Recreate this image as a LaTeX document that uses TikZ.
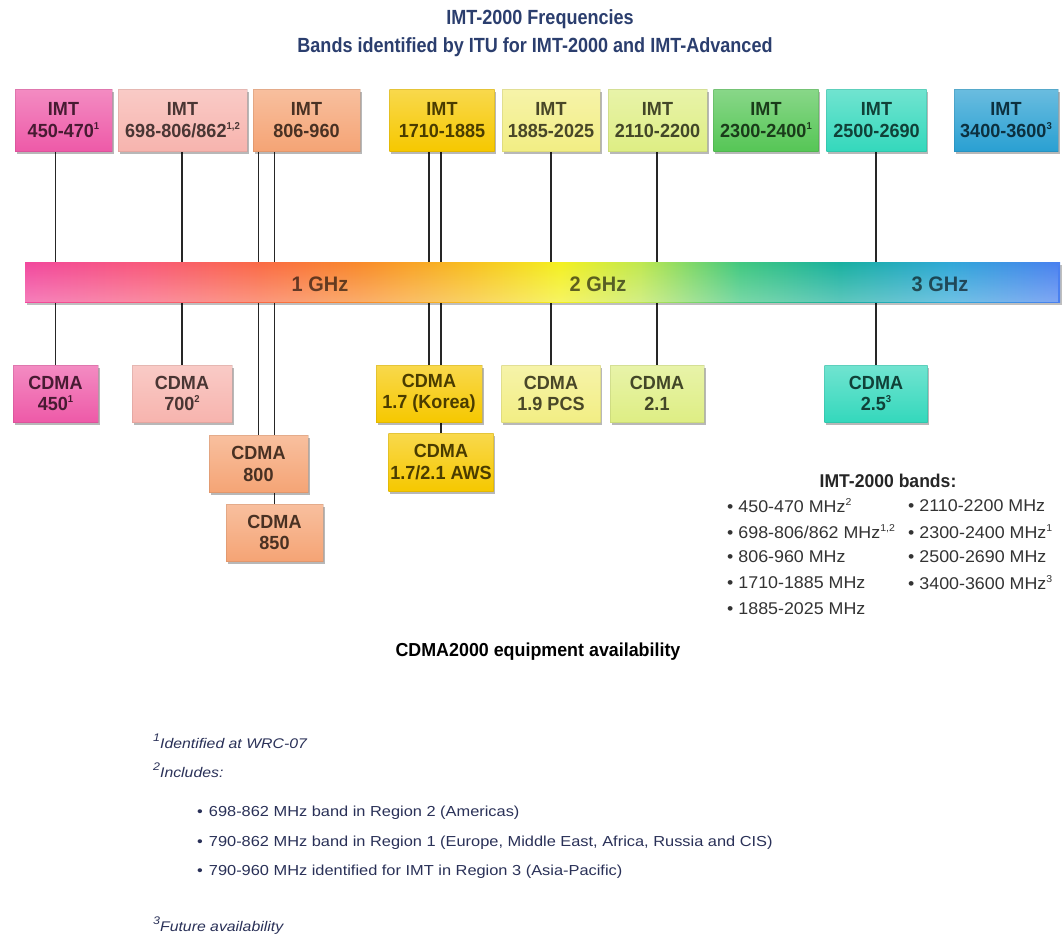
\documentclass[tikz,border=0pt]{standalone}
\usepackage{fontspec}
\setmainfont{Liberation Sans}
\newfontfamily\headfont[FakeStretch=0.88]{Liberation Sans}
\newfontfamily\bandfont[FakeStretch=0.95]{Liberation Sans}
\newfontfamily\listfont[FakeStretch=1.05]{Liberation Sans}
\newfontfamily\notefont[FakeStretch=1.13]{Liberation Sans}
\usetikzlibrary{shadows,fadings,calc}

% band colours
\definecolor{cPink}{HTML}{EE5AA8}
\definecolor{cRose}{HTML}{F7B4AE}
\definecolor{cSalmon}{HTML}{F5A475}
\definecolor{cGold}{HTML}{F6C800}
\definecolor{cLemon}{HTML}{F2EE84}
\definecolor{cLime}{HTML}{DEEE84}
\definecolor{cGreen}{HTML}{56C656}
\definecolor{cTeal}{HTML}{34D8BC}
\definecolor{cBlue}{HTML}{2AA0D2}
\definecolor{titleblue}{HTML}{2B3E6E}
\definecolor{notenavy}{HTML}{2A3158}

% spectrum bar colours
\definecolor{sp0}{HTML}{F2489E}
\definecolor{sp1}{HTML}{F95A78}
\definecolor{sp2}{HTML}{FA6A45}
\definecolor{sp3}{HTML}{F98A2A}
\definecolor{sp4}{HTML}{F8C020}
\definecolor{sp5}{HTML}{F4F020}
\definecolor{sp6}{HTML}{C0E850}
\definecolor{sp7}{HTML}{40C880}
\definecolor{sp8}{HTML}{18B0A0}
\definecolor{sp9}{HTML}{30A8D8}
\definecolor{sp10}{HTML}{4A80F0}

\pgfdeclarehorizontalshading{spectrum}{100bp}{%
  color(0bp)=(sp0); color(25bp)=(sp0); color(31.04bp)=(sp1);
  color(36.35bp)=(sp2); color(41.18bp)=(sp3); color(46.5bp)=(sp4);
  color(50.85bp)=(sp5); color(54.71bp)=(sp6); color(59.54bp)=(sp7);
  color(64.37bp)=(sp8); color(69.69bp)=(sp9); color(75bp)=(sp10);
  color(100bp)=(sp10)}

\pgfdeclarelayer{paper}
\pgfdeclarelayer{wires}
\pgfsetlayers{paper,wires,main}

% small raised marks
\newcommand\bandsup[1]{\raisebox{.42em}{\fontsize{10}{10}\selectfont #1}}
\newcommand\supmark[1]{\raisebox{7pt}{\fontsize{11}{11}\selectfont #1}}

\tikzset{
  conn/.style={draw=black!85, line width=1.2pt},
  band/.style={minimum height=62pt, inner sep=0pt, align=center,
    font=\bandfont\bfseries\fontsize{19}{21.5}\selectfont,
    top color=#1!70!white, bottom color=#1, text=#1!30!black,
    draw=#1!70!black, draw opacity=.25, line width=.8pt,
    drop shadow={shadow xshift=1.5pt, shadow yshift=-2.5pt, opacity=.28, fill=black}},
  cdma/.style={band=#1, minimum height=57pt},
  heading/.style={font=\headfont\bfseries\fontsize{20.5}{22}\selectfont, text=titleblue},
  ghz/.style={font=\bandfont\bfseries\fontsize{21}{22}\selectfont, text=black, text opacity=.6},
  bandlist/.style={anchor=west, inner sep=0pt, font=\listfont\fontsize{17}{20}\selectfont, text=black!80},
  note/.style={anchor=west, inner sep=0pt, font=\notefont\itshape\fontsize{14}{16}\selectfont, text=notenavy},
  noteitem/.style={anchor=west, inner sep=0pt, font=\notefont\fontsize{14.5}{16}\selectfont, text=notenavy},
}

\begin{document}
\begin{tikzpicture}[x=1pt,y=-1pt]
\useasboundingbox (0,0) rectangle (1063,935);
\begin{pgfonlayer}{paper}
\fill[white] (0,0) rectangle (1063,935);
\end{pgfonlayer}

% headings
\node[heading] (t1) at (540,19) {IMT-2000 Frequencies};
\node[heading] (t2) at (535,47) {Bands identified by ITU for IMT-2000 and IMT-Advanced};

% IMT bands
\node[band=cPink,   minimum width=97pt]  (imt450)  at (63.5,120)  {IMT\\450-470\bandsup{1}};
\node[band=cRose,   minimum width=129pt] (imt698)  at (182.5,120) {IMT\\698-806/862\bandsup{1,2}};
\node[band=cSalmon, minimum width=107pt] (imt806)  at (306.5,120) {IMT\\806-960};
\node[band=cGold,   minimum width=105pt] (imt1710) at (442,120)   {IMT\\1710-1885};
\node[band=cLemon,  minimum width=98pt]  (imt1885) at (551,120)   {IMT\\1885-2025};
\node[band=cLime,   minimum width=99pt]  (imt2110) at (657.5,120) {IMT\\2110-2200};
\node[band=cGreen,  minimum width=105pt] (imt2300) at (766,120)   {IMT\\2300-2400\bandsup{1}};
\node[band=cTeal,   minimum width=100pt] (imt2500) at (876.5,120) {IMT\\2500-2690};
\node[band=cBlue,   minimum width=104pt] (imt3400) at (1006,120)  {IMT\\3400-3600\bandsup{3}};

% spectrum bar
\node[minimum width=1035pt, minimum height=40pt, inner sep=0pt, shading=spectrum,
      drop shadow={shadow xshift=1.5pt, shadow yshift=-3pt, opacity=.25, fill=black}]
      (bar) at (542.5,282) {};
\fill[white, opacity=.3, path fading=north] (bar.north west) rectangle (bar.south east);
\node[ghz] (g1) at (320,284) {1 GHz};
\node[ghz] (g2) at (598,284) {2 GHz};
\node[ghz] (g3) at (940,284) {3 GHz};

% CDMA equipment
\node[cdma=cPink,   minimum width=85pt]  (cdma450) at (55.5,393.5)  {CDMA\\450\bandsup{1}};
\node[cdma=cRose,   minimum width=100pt] (cdma700) at (182,393.5)   {CDMA\\700\bandsup{2}};
\node[cdma=cSalmon, minimum width=99pt]  (cdma800) at (258.5,464)   {CDMA\\800};
\node[cdma=cSalmon, minimum width=97pt]  (cdma850) at (274.5,532.5) {CDMA\\850};
\node[cdma=cGold,   minimum width=106pt] (cdmaK)   at (429,393.5)   {CDMA\\1.7 (Korea)};
\node[cdma=cGold,   minimum width=105pt, minimum height=58pt] (cdmaAWS) at (441,462) {CDMA\\1.7/2.1 AWS};
\node[cdma=cLemon,  minimum width=99pt]  (cdma19)  at (551,393.5)   {CDMA\\1.9 PCS};
\node[cdma=cLime,   minimum width=94pt]  (cdma21)  at (657,393.5)   {CDMA\\2.1};
\node[cdma=cTeal,   minimum width=103pt] (cdma25)  at (876,393.5)   {CDMA\\2.5\bandsup{3}};

% connectors, passing behind the bar
\begin{pgfonlayer}{wires}
\draw[conn] (imt450.south -| cdma450.north) -- (cdma450.north);
\draw[conn] (imt698.south -| cdma700.north) -- (cdma700.north);
\draw[conn] (imt806.south -| cdma800.north) -- (cdma800.north);
\draw[conn] (imt806.south -| cdma850.north) -- (cdma800.north -| cdma850.north);
\draw[conn] (cdma800.south -| cdma850.north) -- (cdma850.north);
\draw[conn] (imt1710.south -| cdmaK.north) -- (cdmaK.north);
\draw[conn] (imt1710.south -| cdmaAWS.north) -- (cdmaK.north -| cdmaAWS.north);
\draw[conn] (cdmaK.south -| cdmaAWS.north) -- (cdmaAWS.north);
\draw[conn] (imt1885.south -| cdma19.north) -- (cdma19.north);
\draw[conn] (imt2110.south -| cdma21.north) -- (cdma21.north);
\draw[conn] (imt2500.south -| cdma25.north) -- (cdma25.north);
\end{pgfonlayer}

% band list
\node[font=\bandfont\bfseries\fontsize{18.5}{20}\selectfont, text=black!85] (bl) at (888,481) {IMT-2000 bands:};
\node[bandlist] (l1) at (727,506) {\textbullet\ 450-470 MHz\bandsup{2}};
\node[bandlist] (l2) at (727,532) {\textbullet\ 698-806/862 MHz\bandsup{1,2}};
\node[bandlist] (l3) at (727,557) {\textbullet\ 806-960 MHz};
\node[bandlist] (l4) at (727,583) {\textbullet\ 1710-1885 MHz};
\node[bandlist] (l5) at (727,609) {\textbullet\ 1885-2025 MHz};
\node[bandlist] (r1) at (908,506) {\textbullet\ 2110-2200 MHz};
\node[bandlist] (r2) at (908,532) {\textbullet\ 2300-2400 MHz\bandsup{1}};
\node[bandlist] (r3) at (908,557) {\textbullet\ 2500-2690 MHz};
\node[bandlist] (r4) at (908,583) {\textbullet\ 3400-3600 MHz\bandsup{3}};

\node[font=\bandfont\bfseries\fontsize{18.8}{20}\selectfont, text=black] (avail) at (538,652) {CDMA2000 equipment availability};

% footnotes
\node[note] (fn1) at (153,741) {\supmark{1}Identified at WRC-07};
\node[note] (fn2) at (153,770) {\supmark{2}Includes:};
\node[noteitem] (n1) at (197,813) {\textbullet\hspace{6pt}698-862 MHz band in Region 2 (Americas)};
\node[noteitem] (n2) at (197,843) {\textbullet\hspace{6pt}790-862 MHz band in Region 1 (Europe, Middle East, Africa, Russia and CIS)};
\node[noteitem] (n3) at (197,872) {\textbullet\hspace{6pt}790-960 MHz identified for IMT in Region 3 (Asia-Pacific)};
\node[note] (fn3) at (153,926) {\supmark{3}Future availability};
\end{tikzpicture}
\end{document}
